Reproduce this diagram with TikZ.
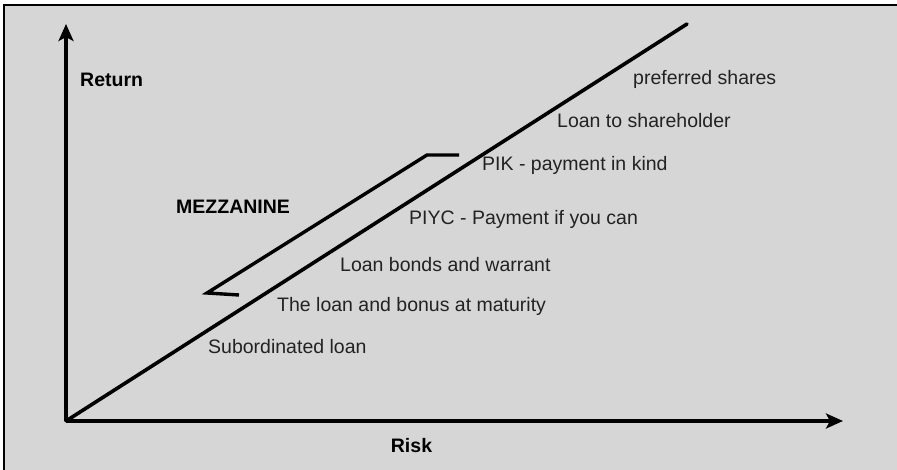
\documentclass[tikz,border=0pt]{standalone}
\usepackage{fontspec}
\setmainfont{Liberation Sans}
\usetikzlibrary{arrows.meta}
\definecolor{bg}{HTML}{D6D6D6}
\definecolor{txt}{HTML}{222222}
\begin{document}
\begin{tikzpicture}[x=1pt,y=-1pt,
  thickline/.style={line width=3.6pt},
  axisarrow/.style={thickline,-{Stealth[length=17pt,width=15pt,inset=4pt]}},
  lbl/.style={anchor=west,inner sep=0pt,text=txt,font=\fontsize{19.5}{23}\selectfont},
  blbl/.style={inner sep=0pt,text=black,font=\fontsize{19.5}{23}\selectfont\bfseries}]
\useasboundingbox (0,0) rectangle (897,470);
\fill[white] (0,0) rectangle (897,470);
\fill[bg] (4,5) rectangle (897,470);
\draw[line width=2pt] (4,470) -- (4,5) -- (897,5);
% axes
\coordinate (O) at (66,421);
\coordinate (Ytop) at (66,24);
\coordinate (Xend) at (843,421);
\coordinate (Dend) at (687,24);
\draw[axisarrow] (O) -- (Ytop);
\draw[axisarrow] (O) -- (Xend);
\draw[thickline,line cap=round] (O) -- (Dend);
% mezzanine bracket
\coordinate (B1) at (459,155);
\coordinate (B2) at (427,155);
\coordinate (B3) at (207,293);
\coordinate (B4) at (239,295);
\draw[line width=3.4pt,line join=miter] (B1) -- (B2) -- (B3) -- (B4);
% labels
\node[blbl,anchor=west] (ret) at (80,80) {Return};
\node[blbl] (risk) at (411.5,446) {Risk};
\node[blbl,anchor=west] (mez) at (176,207) {MEZZANINE};
\node[lbl] (ps) at (633,79) {preferred shares};
\node[lbl] (ls) at (557,121) {Loan to shareholder};
\node[lbl] (pik) at (482,165) {PIK - payment in kind};
\node[lbl] (piyc) at (409,219) {PIYC - Payment if you can};
\node[lbl] (lbw) at (340,265) {Loan bonds and warrant};
\node[lbl] (lbm) at (277,306) {The loan and bonus at maturity};
\node[lbl] (sub) at (208,347) {Subordinated loan};
\end{tikzpicture}
\end{document}
